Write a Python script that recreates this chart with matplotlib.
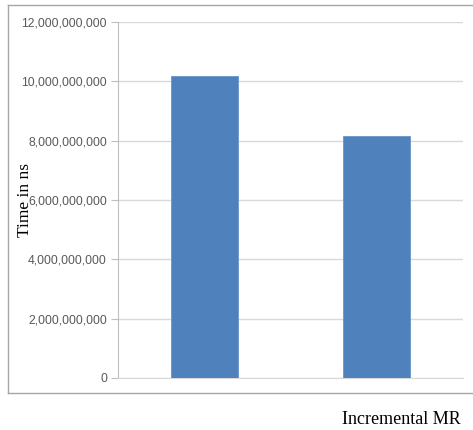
import matplotlib
matplotlib.use("Agg")
import matplotlib.pyplot as plt
from matplotlib.lines import Line2D
from matplotlib.ticker import FuncFormatter

categories = ["Series A", "Series B"]
values = [10.19e9, 8.17e9]
yticks = [0, 2e9, 4e9, 6e9, 8e9, 10e9, 12e9]

W, H = 473, 430
fig = plt.figure(figsize=(W / 100, H / 100), dpi=100)
ax = fig.add_axes([118 / W, 1 - 378 / H, (463 - 118) / W, (378 - 22) / H])

x = range(len(categories))
ax.bar(x, values, width=0.39, color="#4f81bd", edgecolor="#6a95cc", linewidth=0.6, zorder=3)
ax.set_xlim(-0.5, len(categories) - 0.5)
ax.set_ylim(0, 12e9)
ax.set_yticks(yticks)
ax.yaxis.set_major_formatter(FuncFormatter(lambda v, p: f"{int(v):,}"))
ax.set_xticks([])
ax.grid(axis="y", color="#d9d9d9", linewidth=1.0, zorder=0)
for s in ["top", "right"]:
    ax.spines[s].set_visible(False)
ax.spines["left"].set_color("#bfbfbf")
ax.spines["bottom"].set_color("#d9d9d9")
ax.tick_params(axis="y", length=5, color="#bfbfbf", labelcolor="#595959", labelsize=8.8, pad=3)
for lbl in ax.get_yticklabels():
    lbl.set_fontfamily("Liberation Sans")

fig.text(25 / W, 1 - 200 / H, "Time in ns", rotation=90, ha="center", va="center",
         fontsize=12.5, family="Liberation Serif", color="#000000")
fig.text(401 / W, 1 - 420 / H, "Incremental MR", ha="center", va="center",
         fontsize=13, family="Liberation Serif", color="#000000")

# chart frame (right edge cut off)
fc = "#a6a6a6"
x0, x1 = 8 / W, 1.0
y0, y1 = 1 - 393 / H, 1 - 5 / H
fig.add_artist(Line2D([x0, x1], [y1, y1], color=fc, linewidth=1.0, transform=fig.transFigure))
fig.add_artist(Line2D([x0, x1], [y0, y0], color=fc, linewidth=1.0, transform=fig.transFigure))
fig.add_artist(Line2D([x0, x0], [y0, y1], color=fc, linewidth=1.0, transform=fig.transFigure))

fig.savefig("out.png", dpi=100)
